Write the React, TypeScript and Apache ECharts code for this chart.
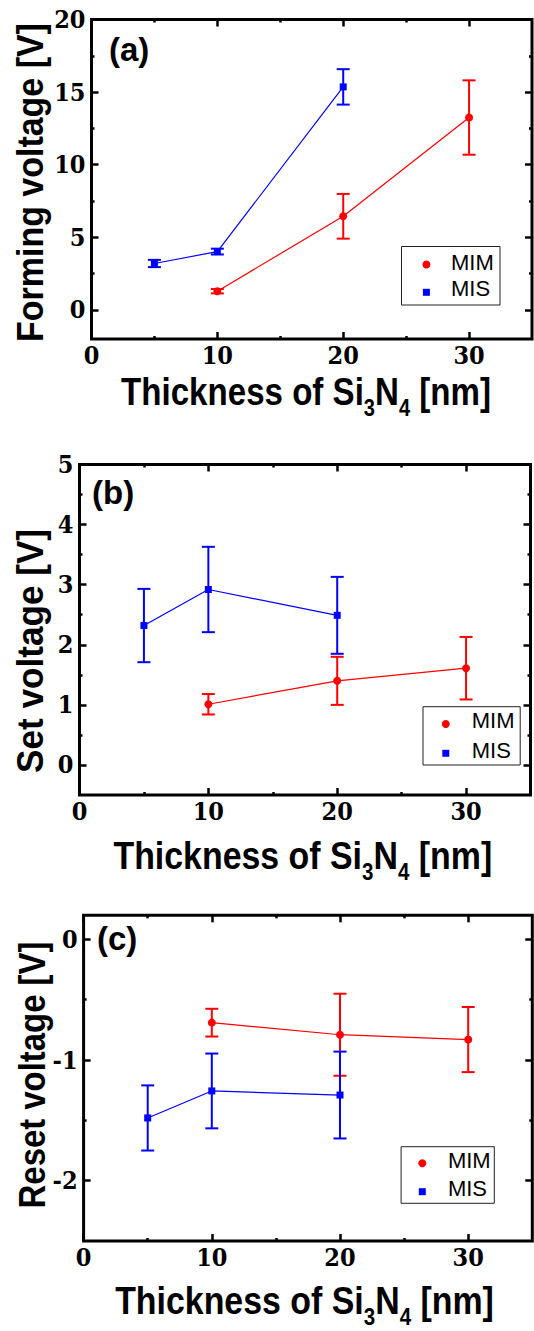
import React, { useEffect, useRef } from "react";
import * as echarts from "echarts";

// ---------- data ----------
const xTicks = [0, 10, 20, 30];
const xMinorTicks = [5, 15, 25];

// (a) Forming voltage
const formMimX = [10, 20, 30];
const formMimY = [1.29, 6.45, 13.25];
const formMimErr = [0.15, 1.54, 2.56];
const formMisX = [5, 10, 20];
const formMisY = [3.2, 4.02, 15.36];
const formMisErr = [0.25, 0.2, 1.22];
const formYTicks = [0, 5, 10, 15, 20];
const formYMinor = [2.5, 7.5, 12.5, 17.5];

// (b) Set voltage
const setMimX = [10, 20, 30];
const setMimY = [1.01, 1.4, 1.61];
const setMimErr = [0.17, 0.4, 0.52];
const setMisX = [5, 10, 20];
const setMisY = [2.32, 2.92, 2.49];
const setMisErr = [0.61, 0.71, 0.64];
const setYTicks = [0, 1, 2, 3, 4, 5];
const setYMinor = [0.5, 1.5, 2.5, 3.5, 4.5];

// (c) Reset voltage
const resetMimX = [10, 20, 30];
const resetMimY = [-0.69, -0.79, -0.83];
const resetMimErr = [0.115, 0.34, 0.27];
const resetMisX = [5, 10, 20];
const resetMisY = [-1.48, -1.256, -1.29];
const resetMisErr = [0.27, 0.31, 0.36];
const resetYTicks = [-2, -1, 0];
const resetYMinor = [-1.5, -0.5];

const seriesNames = ["MIM", "MIS"];
const panelLabels = ["(a)", "(b)", "(c)"];
const yTitles = ["Forming voltage [V]", "Set voltage [V]", "Reset voltage [V]"];

// ---------- layout ----------
const RED = "#ff0000";
const BLUE = "#0000ff";
const SERIF = "DejaVu Serif Condensed";
const SANS = "Liberation Sans";

const panels = [
  {
    left: 91.5, right: 532, top: 19.5, bottom: 339,
    xMin: 0, xMax: 35, yMin: -2, yMax: 20,
    yTicks: formYTicks, yMinor: formYMinor,
    mim: [formMimX, formMimY, formMimErr], mis: [formMisX, formMisY, formMisErr],
    yTitle: { x: 30, y: 182.5, scale: 0.918 },
    xTitle: { x: 306, y: 392, scale: 0.871 },
    label: { x: 109, y: 49.5 },
    legend: { x: 401.5, y: 246.5, w: 98.5, h: 58.5, mx: 426.4, y1: 264.5, y2: 292.3, tx: 451, ty1: 262.2, ty2: 288.3 },
  },
  {
    left: 79.5, right: 530.5, top: 464.5, bottom: 795,
    xMin: 0, xMax: 35, yMin: -0.5, yMax: 5,
    yTicks: setYTicks, yMinor: setYMinor,
    mim: [setMimX, setMimY, setMimErr], mis: [setMisX, setMisY, setMisErr],
    yTitle: { x: 30, y: 651, scale: 0.95 },
    xTitle: { x: 302.8, y: 856.3, scale: 0.892 },
    label: { x: 92, y: 492 },
    legend: { x: 423, y: 706.7, w: 97.2, h: 58.3, mx: 445.8, y1: 724, y2: 753.3, tx: 471.7, ty1: 720.8, ty2: 750.8 },
  },
  {
    left: 83.6, right: 532.3, top: 915.3, bottom: 1241,
    xMin: 0, xMax: 35, yMin: -2.5, yMax: 0.2,
    yTicks: resetYTicks, yMinor: resetYMinor,
    mim: [resetMimX, resetMimY, resetMimErr], mis: [resetMisX, resetMisY, resetMisErr],
    yTitle: { x: 31.5, y: 1075, scale: 0.889 },
    xTitle: { x: 304.5, y: 1301, scale: 0.892 },
    label: { x: 97, y: 938.7 },
    legend: { x: 401.1, y: 1146.7, w: 93.2, h: 56.6, mx: 422.3, y1: 1163.3, y2: 1191.7, tx: 447.9, ty1: 1160.8, ty2: 1188.7 },
  },
];

function zip(xs: number[], ys: number[]) {
  return xs.map((x, i) => [x, ys[i]]);
}
function zip3(xs: number[], ys: number[], es: number[]) {
  return xs.map((x, i) => [x, ys[i], es[i]]);
}

function makeAxis(kind: "x" | "y", gridIndex: number, min: number, max: number, position: string, values: number[], major: boolean, labels: boolean) {
  return {
    type: "value",
    gridIndex,
    min,
    max,
    position,
    axisLine: { show: false, onZero: false },
    splitLine: { show: false },
    axisTick: {
      show: true,
      inside: true,
      length: major ? 7 : 3,
      customValues: values,
      lineStyle: { color: "#000", width: 2.5 },
    },
    axisLabel: labels
      ? {
          show: true,
          customValues: values,
          fontFamily: SERIF,
          fontWeight: "bold",
          fontSize: 25,
          color: "#000",
          margin: kind === "x" ? 4 : 6,
        }
      : { show: false },
  };
}

function errorSeries(xi: number, yi: number, data: number[][], color: string) {
  return {
    type: "custom",
    xAxisIndex: xi,
    yAxisIndex: yi,
    z: 2,
    silent: true,
    encode: { x: 0, y: 1 },
    data,
    renderItem: (params: any, api: any) => {
      const x = api.value(0);
      const y = api.value(1);
      const e = api.value(2);
      const t = api.coord([x, y + e]);
      const b = api.coord([x, y - e]);
      const w = 6.5;
      const style = { stroke: color, lineWidth: 2, fill: "none" };
      return {
        type: "group",
        children: [
          { type: "line", shape: { x1: t[0], y1: t[1], x2: b[0], y2: b[1] }, style },
          { type: "line", shape: { x1: t[0] - w, y1: t[1], x2: t[0] + w, y2: t[1] }, style },
          { type: "line", shape: { x1: b[0] - w, y1: b[1], x2: b[0] + w, y2: b[1] }, style },
        ],
      };
    },
  };
}

function buildOption() {
  const grid: any[] = [];
  const xAxis: any[] = [];
  const yAxis: any[] = [];
  const series: any[] = [];
  const graphic: any[] = [];

  panels.forEach((p, i) => {
    grid.push({
      left: p.left,
      top: p.top,
      width: p.right - p.left,
      height: p.bottom - p.top,
      show: true,
      borderWidth: 3,
      borderColor: "#000",
      backgroundColor: "transparent",
      containLabel: false,
      outerBoundsMode: "none",
    });
    xAxis.push(makeAxis("x", i, p.xMin, p.xMax, "bottom", xTicks, true, true));
    xAxis.push(makeAxis("x", i, p.xMin, p.xMax, "top", xTicks, true, false));
    xAxis.push(makeAxis("x", i, p.xMin, p.xMax, "bottom", xMinorTicks, false, false));
    xAxis.push(makeAxis("x", i, p.xMin, p.xMax, "top", xMinorTicks, false, false));
    yAxis.push(makeAxis("y", i, p.yMin, p.yMax, "left", p.yTicks, true, true));
    yAxis.push(makeAxis("y", i, p.yMin, p.yMax, "right", p.yTicks, true, false));
    yAxis.push(makeAxis("y", i, p.yMin, p.yMax, "left", p.yMinor, false, false));
    yAxis.push(makeAxis("y", i, p.yMin, p.yMax, "right", p.yMinor, false, false));

    const xi = i * 4;
    const yi = i * 4;
    const [mx, my, me] = p.mim;
    const [sx, sy, se] = p.mis;
    series.push(errorSeries(xi, yi, zip3(mx, my, me), RED));
    series.push(errorSeries(xi, yi, zip3(sx, sy, se), BLUE));
    series.push({
      name: seriesNames[0],
      type: "line",
      xAxisIndex: xi,
      yAxisIndex: yi,
      data: zip(mx, my),
      symbol: "circle",
      symbolSize: 8,
      z: 3,
      lineStyle: { color: RED, width: 1.2 },
      itemStyle: { color: RED },
    });
    series.push({
      name: seriesNames[1],
      type: "line",
      xAxisIndex: xi,
      yAxisIndex: yi,
      data: zip(sx, sy),
      symbol: "rect",
      symbolSize: 7,
      z: 3,
      lineStyle: { color: BLUE, width: 1.2 },
      itemStyle: { color: BLUE },
    });

    graphic.push({
      type: "text",
      x: p.yTitle.x,
      y: p.yTitle.y,
      rotation: Math.PI / 2,
      scaleX: p.yTitle.scale,
      style: {
        text: yTitles[i],
        fill: "#000",
        fontFamily: SANS,
        fontWeight: "bold",
        fontSize: 37,
        align: "center",
        verticalAlign: "middle",
      },
    });
    graphic.push({
      type: "text",
      x: p.xTitle.x,
      y: p.xTitle.y,
      scaleX: p.xTitle.scale,
      style: {
        text: "{m|Thickness of Si}{s|3}{m|N}{s|4}{m| [nm]}",
        fill: "#000",
        fontFamily: SANS,
        fontWeight: "bold",
        fontSize: 38,
        align: "center",
        verticalAlign: "middle",
        rich: {
          m: { fontFamily: SANS, fontWeight: "bold", fontSize: 38, lineHeight: 40, fill: "#000" },
          s: { fontFamily: SANS, fontWeight: "bold", fontSize: 23, lineHeight: 8, height: 8, verticalAlign: "bottom", fill: "#000" },
        },
      },
    });
    graphic.push({
      type: "text",
      x: p.label.x,
      y: p.label.y,
      style: {
        text: panelLabels[i],
        fill: "#000",
        fontFamily: SANS,
        fontWeight: "bold",
        fontSize: 33,
        align: "left",
        verticalAlign: "middle",
      },
    });
    const L = p.legend;
    graphic.push({
      type: "rect",
      shape: { x: L.x, y: L.y, width: L.w, height: L.h },
      style: { fill: "#fff", stroke: "#222", lineWidth: 1 },
      z: 10,
    });
    graphic.push({
      type: "circle",
      shape: { cx: L.mx, cy: L.y1, r: 4 },
      style: { fill: RED },
      z: 11,
    });
    graphic.push({
      type: "rect",
      shape: { x: L.mx - 3.5, y: L.y2 - 3.5, width: 7, height: 7 },
      style: { fill: BLUE },
      z: 11,
    });
    graphic.push({
      type: "text",
      x: L.tx,
      y: L.ty1,
      z: 11,
      style: { text: seriesNames[0], fill: "#000", fontFamily: SANS, fontSize: 22, align: "left", verticalAlign: "middle" },
    });
    graphic.push({
      type: "text",
      x: L.tx,
      y: L.ty2,
      z: 11,
      style: { text: seriesNames[1], fill: "#000", fontFamily: SANS, fontSize: 22, align: "left", verticalAlign: "middle" },
    });
  });

  return {
    animation: false,
    backgroundColor: "#fff",
    grid,
    xAxis,
    yAxis,
    series,
    graphic,
  };
}

export default function App() {
  const ref = useRef<HTMLDivElement>(null);
  useEffect(() => {
    if (!ref.current) return;
    const chart = echarts.init(ref.current, undefined, { renderer: "svg" });
    chart.setOption(buildOption() as any);
    return () => chart.dispose();
  }, []);
  return (
    <div
      ref={ref}
      style={{ position: "absolute", left: 0, top: 0, width: 534, height: 1331, background: "#fff" }}
    />
  );
}
